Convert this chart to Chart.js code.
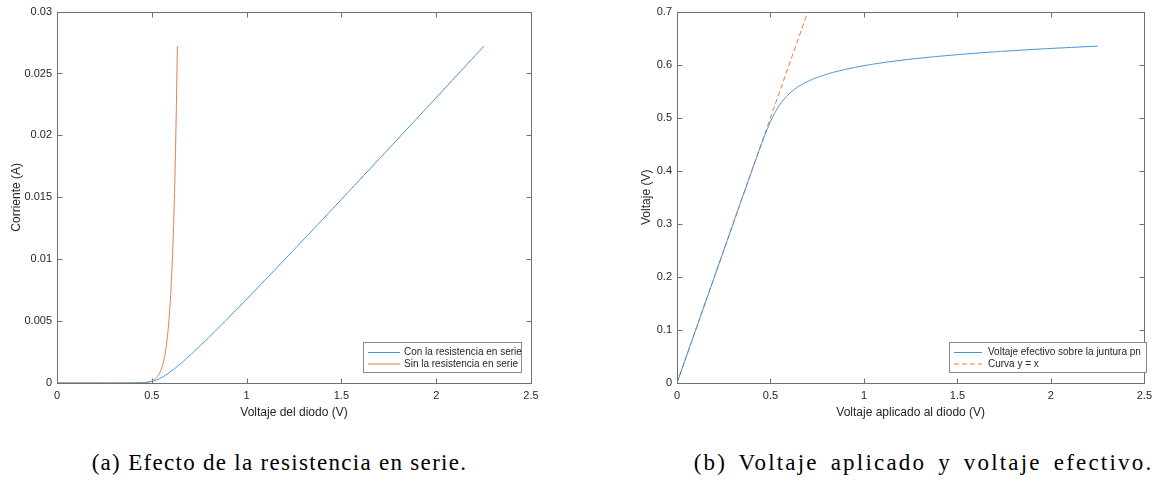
<!DOCTYPE html>
<html>
<head>
<meta charset="utf-8">
<script src="https://cdn.jsdelivr.net/npm/chart.js@4.4.0/dist/chart.umd.min.js"></script>
<style>
  html, body { margin: 0; padding: 0; background: #fff; }
  body { width: 1158px; height: 481px; position: relative; overflow: hidden; }
  canvas { position: absolute; top: 0; }
  #chartA { left: 0; }
  #chartB { left: 579px; }
  .caption {
    position: absolute; top: 451px; white-space: nowrap;
    font-family: "Liberation Serif", serif; font-size: 23px; line-height: 23px;
    color: #000; transform: translateX(-50%);
  }
</style>
</head>
<body>
<canvas id="chartA" width="579" height="430"></canvas>
<canvas id="chartB" width="579" height="430"></canvas>
<div class="caption" style="left:279.5px; letter-spacing:1.3px">(a) Efecto de la resistencia en serie.</div>
<div class="caption" style="left:923.5px; letter-spacing:2.2px; word-spacing:4px">(b) Voltaje aplicado y voltaje efectivo.</div>
<script>
// voltage across the pn junction (V)
const junctionV = [0, 0.1, 0.2, 0.3, 0.35, 0.4, 0.43, 0.45, 0.46, 0.47, 0.48, 0.49, 0.5,
  0.51, 0.52, 0.53, 0.54, 0.55, 0.555, 0.56, 0.565, 0.57, 0.575, 0.58, 0.585, 0.59, 0.595,
  0.6, 0.605, 0.61, 0.615, 0.62, 0.625, 0.63, 0.635];
// diode current (A)
const currentA = [0, 0, 0, 0, 0.0000006, 0.0000038, 0.0000119, 0.0000253, 0.0000369,
  0.0000538, 0.0000784, 0.000114, 0.000167, 0.000243, 0.000355, 0.000518, 0.000754, 0.0011,
  0.00133, 0.0016, 0.00194, 0.00234, 0.00283, 0.00341, 0.00412, 0.00498, 0.00601, 0.00726,
  0.00877, 0.01059, 0.01279, 0.01544, 0.01865, 0.02252, 0.0272];
// voltage applied to the diode incl. series resistance (V)
const appliedV = [0, 0.1, 0.2, 0.3, 0.35, 0.4002, 0.4307, 0.4515, 0.4622, 0.4732, 0.4847,
  0.4968, 0.5099, 0.5244, 0.5411, 0.5608, 0.5848, 0.6153, 0.634, 0.655, 0.68, 0.709, 0.743,
  0.783, 0.83, 0.886, 0.952, 1.031, 1.126, 1.239, 1.375, 1.537, 1.733, 1.968, 2.251];
// y = x reference line
const identityX = [0, 0.7];
const identityY = [0, 0.7];

const xTicks = [0, 0.5, 1, 1.5, 2, 2.5];
const yTicksA = [0, 0.005, 0.01, 0.015, 0.02, 0.025, 0.03];
const yTicksB = [0, 0.1, 0.2, 0.3, 0.4, 0.5, 0.6, 0.7];

const BLUE = '#3f94d6';
const ORANGE = '#e5784a';
const AXIS = '#707070';
const TEXT = '#262626';
const FONT = '"Liberation Sans", Arial, sans-serif';

const pts = (xs, ys) => xs.map((x, i) => ({ x: x, y: ys[i] }));

// box around the axes with inward ticks on all four sides, MATLAB style
const matlabBox = {
  id: 'matlabBox',
  beforeDatasetsDraw(chart) {
    const { ctx, chartArea: a, scales: { x, y } } = chart;
    const L = Math.round(a.left) + 0.5, R = Math.round(a.right) + 0.5;
    const T = Math.round(a.top) + 0.5, B = Math.round(a.bottom) + 0.5;
    ctx.save();
    ctx.strokeStyle = AXIS;
    ctx.lineWidth = 1;
    ctx.strokeRect(L, T, R - L, B - T);
    ctx.beginPath();
    x.ticks.forEach(t => {
      const px = Math.round(x.getPixelForValue(t.value)) + 0.5;
      ctx.moveTo(px, B); ctx.lineTo(px, B - 5);
      ctx.moveTo(px, T); ctx.lineTo(px, T + 5);
    });
    y.ticks.forEach(t => {
      const py = Math.round(y.getPixelForValue(t.value)) + 0.5;
      ctx.moveTo(L, py); ctx.lineTo(L + 5, py);
      ctx.moveTo(R, py); ctx.lineTo(R - 5, py);
    });
    ctx.stroke();
    ctx.restore();
  }
};

// legend box drawn inside the axes
const boxLegend = {
  id: 'boxLegend',
  afterDatasetsDraw(chart, args, opts) {
    const { ctx } = chart;
    ctx.save();
    ctx.fillStyle = '#fff';
    ctx.fillRect(opts.left, opts.top, opts.width, opts.height);
    ctx.strokeStyle = '#8a8a8a';
    ctx.lineWidth = 1;
    ctx.strokeRect(opts.left + 0.5, opts.top + 0.5, opts.width, opts.height);
    ctx.font = '10px ' + FONT;
    ctx.textBaseline = 'middle';
    chart.data.datasets.forEach((ds, i) => {
      const yy = opts.top + opts.rowTop + i * opts.rowGap;
      ctx.strokeStyle = ds.borderColor;
      ctx.lineWidth = ds.borderWidth;
      ctx.setLineDash(ds.borderDash || []);
      ctx.beginPath();
      ctx.moveTo(opts.lineFrom, yy);
      ctx.lineTo(opts.lineTo, yy);
      ctx.stroke();
      ctx.setLineDash([]);
      ctx.fillStyle = TEXT;
      ctx.fillText(ds.label, opts.textX, yy);
    });
    ctx.restore();
  }
};

function axisOpts(ticks, min, max, title, isX, titlePad, fitSize) {
  return {
    type: 'linear', min: min, max: max,
    afterBuildTicks: s => { s.ticks = ticks.map(v => ({ value: v })); },
    afterFit: s => { if (isX) s.height = fitSize; else s.width = fitSize; },
    grid: { display: false, drawTicks: false },
    border: { display: false },
    ticks: {
      color: TEXT, padding: isX ? 6 : 5, autoSkip: false, maxRotation: 0,
      font: { family: FONT, size: 11 },
      callback: v => String(v)
    },
    title: {
      display: true, text: title, color: TEXT,
      font: { family: FONT, size: 12 },
      padding: isX ? { top: 0, bottom: titlePad } : { top: titlePad, bottom: 0 }
    }
  };
}

// tiny tension keeps the segments straight but avoids the per-pixel fast path
function lineSet(label, data, color, dash) {
  return {
    label: label, data: data, borderColor: color, backgroundColor: color,
    borderWidth: 1, borderDash: dash, pointRadius: 0, tension: 0.0001, fill: false
  };
}

new Chart(document.getElementById('chartA'), {
  type: 'line',
  data: {
    datasets: [
      lineSet('Con la resistencia en serie', pts(appliedV, currentA), BLUE),
      lineSet('Sin la resistencia en serie', pts(junctionV, currentA), ORANGE)
    ]
  },
  options: {
    responsive: false, animation: false,
    layout: { padding: { top: 9, right: 48, left: 0, bottom: 0 } },
    plugins: {
      legend: { display: false }, tooltip: { enabled: false },
      boxLegend: { left: 363, top: 342, width: 158, height: 30, rowTop: 10.5, rowGap: 11.5,
        lineFrom: 368, lineTo: 400, textX: 404 }
    },
    scales: {
      x: axisOpts(xTicks, 0, 2.5, 'Voltaje del diodo (V)', true, 10, 47),
      y: axisOpts(yTicksA, 0, 0.03, 'Corriente (A)', false, 9, 57)
    }
  },
  plugins: [matlabBox, boxLegend]
});

new Chart(document.getElementById('chartB'), {
  type: 'line',
  data: {
    datasets: [
      lineSet('Voltaje efectivo sobre la juntura pn', pts(appliedV, junctionV), BLUE),
      lineSet('Curva y = x', pts(identityX, identityY), ORANGE, [5, 3])
    ]
  },
  options: {
    responsive: false, animation: false,
    layout: { padding: { top: 9, right: 9.5, left: 0, bottom: 0 } },
    plugins: {
      legend: { display: false }, tooltip: { enabled: false },
      boxLegend: { left: 370, top: 342, width: 197, height: 30, rowTop: 10.5, rowGap: 11.5,
        lineFrom: 375, lineTo: 403, textX: 409 }
    },
    scales: {
      x: axisOpts(xTicks, 0, 2.5, 'Voltaje aplicado al diodo (V)', true, 10, 47),
      y: axisOpts(yTicksB, 0, 0.7, 'Voltaje (V)', false, 60, 98)
    }
  },
  plugins: [matlabBox, boxLegend]
});
</script>
</body>
</html>
